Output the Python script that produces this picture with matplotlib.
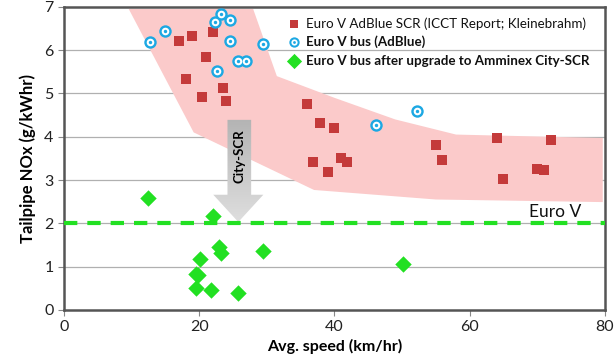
import numpy as np
import matplotlib
matplotlib.use("Agg")
import matplotlib.pyplot as plt
from matplotlib.patches import Polygon

plt.rcParams['font.family'] = ['Lato', 'DejaVu Sans']

# Euro V AdBlue SCR (ICCT report; Kleinebrahm)
icct_speed = [17.0, 19.0, 22.0, 21.0, 18.0, 23.5, 20.5, 24.0, 36.0, 37.9, 40.0,
              36.9, 39.0, 41.0, 41.9, 55.1, 55.9, 64.1, 64.9, 72.0, 70.0, 71.0]
icct_nox = [6.21, 6.33, 6.42, 5.84, 5.33, 5.12, 4.92, 4.83, 4.76, 4.32, 4.20,
            3.42, 3.19, 3.51, 3.42, 3.81, 3.46, 3.97, 3.03, 3.93, 3.26, 3.23]

# Euro V bus (AdBlue)
bus_speed = [12.7, 14.9, 23.2, 22.3, 24.5, 24.6, 29.4, 25.7, 27.0, 22.7, 52.3, 46.2]
bus_nox = [6.19, 6.44, 6.84, 6.65, 6.70, 6.21, 6.14, 5.75, 5.75, 5.52, 4.60, 4.27]

# Euro V bus after upgrade to Amminex City-SCR
city_speed = [12.4, 22.1, 22.9, 23.3, 29.5, 20.1, 19.5, 19.9, 19.5, 21.7, 25.7, 50.2]
city_nox = [2.59, 2.17, 1.46, 1.32, 1.36, 1.18, 0.83, 0.81, 0.51, 0.46, 0.39, 1.06]

# shaded envelope of the ICCT data
band_x = [9.6, 28.0, 31.5, 40.0, 49.0, 58.0, 79.7, 79.7, 55.0, 37.0, 19.2]
band_y = [6.95, 6.95, 5.4, 4.9, 4.4, 4.05, 3.97, 2.49, 2.55, 2.77, 4.1]

euro_v_limit = 2.0

fig = plt.figure(figsize=(6.14, 3.62), dpi=100)
ax = fig.add_axes([0.104, 0.144, 0.881, 0.837])

ax.add_patch(Polygon(list(zip(band_x, band_y)), closed=True,
                     facecolor='#fbcaca', edgecolor='none', zorder=1))

for y in range(1, 7):
    ax.axhline(y, color='#b0b0b0', lw=0.9, zorder=0.5)

# arrow City-SCR with a soft gradient
arr = np.array([[24.2, 4.39], [27.7, 4.39], [27.7, 2.66], [29.5, 2.66],
                [25.8, 2.03], [22.1, 2.66], [24.2, 2.66]])
arrow = Polygon(arr, closed=True, facecolor='none', edgecolor='none', zorder=2)
ax.add_patch(arrow)
grad = np.linspace(0, 1, 100).reshape(-1, 1)
im = ax.imshow(grad, cmap=matplotlib.colors.LinearSegmentedColormap.from_list('g', ['#b4b4b4', '#dedede']),
               extent=[22.1, 29.5, 2.03, 4.39], origin='upper', aspect='auto', zorder=2)
im.set_clip_path(arrow)
ax.text(26.0, 3.55, 'City-SCR', rotation=90, ha='center', va='center',
        fontsize=9.5, fontweight='bold', color='black', zorder=3)

ax.axhline(euro_v_limit, color='#22e022', lw=3, dashes=(3.2, 2.4), zorder=4)
ax.text(68.8, euro_v_limit + 0.08, 'Euro V', fontsize=12.5, color='#111111',
        ha='left', va='bottom', zorder=5)

ax.scatter(icct_speed, icct_nox, marker='s', s=62, color='#c43a3a', linewidths=0, zorder=5)
ax.scatter(bus_speed, bus_nox, marker='o', s=80, color='#1ca8e3', linewidths=0, zorder=6)
ax.scatter(bus_speed, bus_nox, marker='o', s=30, color='white', linewidths=0, zorder=6)
ax.scatter(bus_speed, bus_nox, marker='o', s=6, color='#1ca8e3', linewidths=0, zorder=6)
ax.scatter(city_speed, city_nox, marker='D', s=70, color='#22e022', linewidths=0, zorder=7)

# legend by hand
lx = 0.425
ly = [0.944, 0.884, 0.822]
ax.scatter([lx], [ly[0]], transform=ax.transAxes, marker='s', s=40, color='#c43a3a',
           linewidths=0, zorder=8)
ax.scatter([lx], [ly[1]], transform=ax.transAxes, marker='o', s=55, color='#1ca8e3',
           linewidths=0, zorder=8)
ax.scatter([lx], [ly[1]], transform=ax.transAxes, marker='o', s=20, color='white',
           linewidths=0, zorder=8)
ax.scatter([lx], [ly[1]], transform=ax.transAxes, marker='o', s=4, color='#1ca8e3',
           linewidths=0, zorder=8)
ax.scatter([lx], [ly[2]], transform=ax.transAxes, marker='D', s=60, color='#22e022',
           linewidths=0, zorder=8)
labels = ['Euro V AdBlue SCR (ICCT Report; Kleinebrahm)', 'Euro V bus (AdBlue)',
          'Euro V bus after upgrade to Amminex City-SCR']
weights = ['normal', 'bold', 'bold']
for y, t, w in zip(ly, labels, weights):
    ax.text(0.447, y, t, transform=ax.transAxes, fontsize=9.6, fontweight=w,
            va='center', ha='left', color='#111111', zorder=8)

ax.set_xlim(0, 80)
ax.set_ylim(0, 7)
ax.set_xticks([0, 20, 40, 60, 80])
ax.set_yticks(range(0, 8))
ax.tick_params(axis='both', labelsize=11.5, length=4, color='#888888', labelcolor='#222222')
for s in ax.spines.values():
    s.set_color('#555555')
    s.set_linewidth(1.8)

ax.set_xlabel('Avg. speed (km/hr)', fontsize=11.5, fontweight='bold', labelpad=3)
ax.set_ylabel('Tailpipe NOx (g/kWhr)', fontsize=12, fontweight='bold', labelpad=6)

fig.savefig('out.png', dpi=100)
